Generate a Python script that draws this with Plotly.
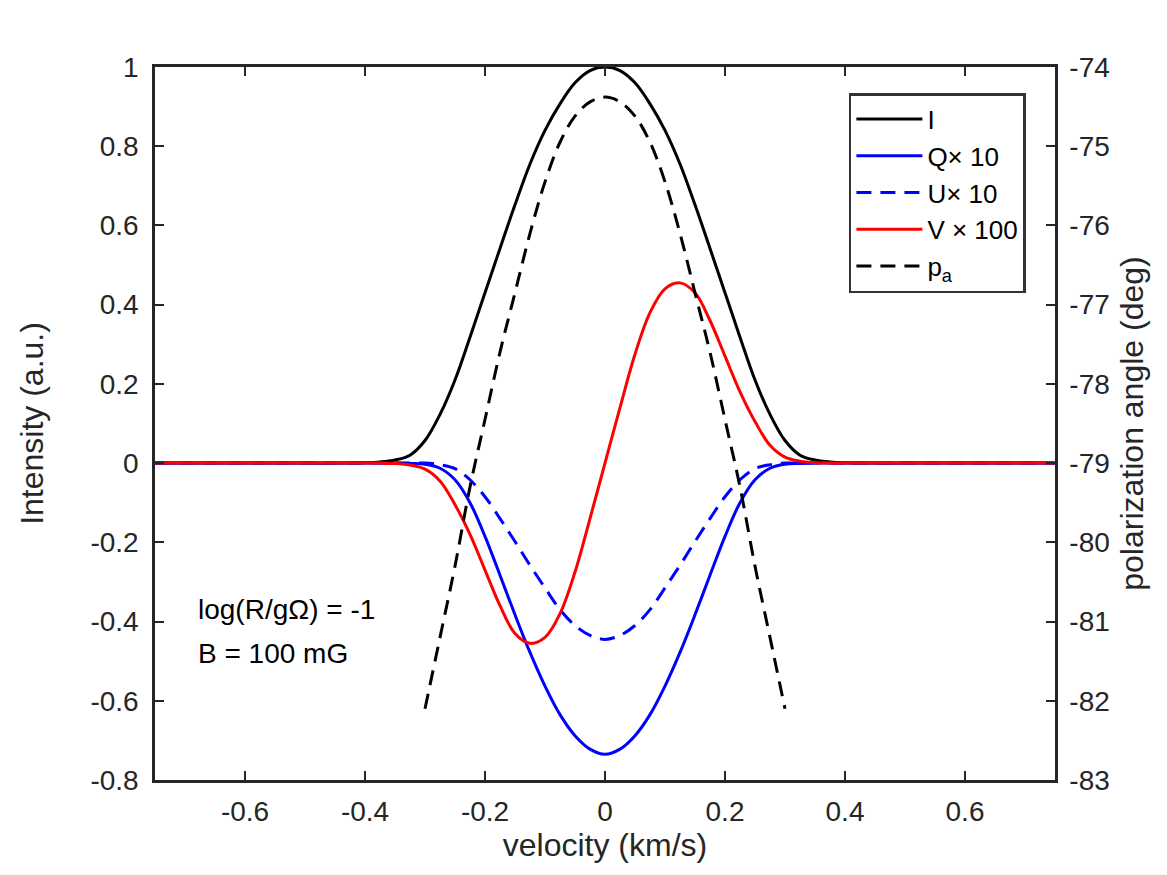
import plotly.graph_objects as go

# velocity grid (km/s) used for the Stokes profiles
velocity = [-0.75, -0.6, -0.5, -0.45, -0.4, -0.375, -0.35, -0.325, -0.3, -0.275,
            -0.25, -0.225, -0.2, -0.175, -0.15, -0.125, -0.1, -0.075, -0.05, -0.025,
            0.0, 0.025, 0.05, 0.075, 0.1, 0.125, 0.15, 0.175, 0.2, 0.225,
            0.25, 0.275, 0.3, 0.325, 0.35, 0.375, 0.4, 0.45, 0.5, 0.6, 0.75]

stokes_I = [0, 0, 0, 0, 0.001, 0.003, 0.008, 0.02, 0.057, 0.123,
            0.21, 0.318, 0.43, 0.542, 0.652, 0.755, 0.84, 0.907, 0.96, 0.991,
            1.0, 0.991, 0.96, 0.907, 0.84, 0.755, 0.652, 0.542, 0.43, 0.318,
            0.21, 0.123, 0.057, 0.02, 0.008, 0.003, 0.001, 0, 0, 0, 0]

stokes_Q10 = [0, 0, 0, 0, 0, 0, 0, -0.001, -0.003, -0.013,
              -0.042, -0.1, -0.185, -0.283, -0.383, -0.478, -0.563, -0.635, -0.688, -0.722,
              -0.735, -0.722, -0.688, -0.635, -0.563, -0.478, -0.383, -0.283, -0.185, -0.1,
              -0.042, -0.013, -0.003, -0.001, 0, 0, 0, 0, 0, 0, 0]

stokes_U10 = [0, 0, 0, 0, 0, 0, 0, 0, 0, -0.004,
              -0.014, -0.042, -0.085, -0.14, -0.198, -0.258, -0.315, -0.37, -0.41, -0.435,
              -0.445, -0.435, -0.41, -0.37, -0.315, -0.258, -0.198, -0.14, -0.085, -0.042,
              -0.014, -0.004, 0, 0, 0, 0, 0, 0, 0, 0, 0]

stokes_V100 = [0, 0, 0, 0, 0, 0, -0.001, -0.005, -0.015, -0.045,
               -0.105, -0.18, -0.27, -0.36, -0.43, -0.455, -0.44, -0.38, -0.275, -0.14,
               0.0, 0.14, 0.275, 0.38, 0.44, 0.455, 0.43, 0.36, 0.27, 0.18,
               0.105, 0.045, 0.015, 0.005, 0.001, 0, 0, 0, 0, 0, 0]

# polarization angle (deg), right axis
pa_velocity = [-0.3, -0.275, -0.25, -0.225, -0.2, -0.175, -0.15, -0.125, -0.1, -0.075,
               -0.05, -0.025, 0.0, 0.025, 0.05, 0.075, 0.1, 0.125, 0.15, 0.175,
               0.2, 0.225, 0.25, 0.275, 0.3]
pa_angle = [-82.1, -81.2, -80.3, -79.3, -78.45, -77.6, -76.85, -76.1, -75.45, -74.95,
            -74.62, -74.44, -74.38, -74.44, -74.62, -74.95, -75.45, -76.1, -76.85, -77.6,
            -78.45, -79.3, -80.3, -81.2, -82.1]

x_ticks = [-0.6, -0.4, -0.2, 0, 0.2, 0.4, 0.6]
x_labels = ["-0.6", "-0.4", "-0.2", "0", "0.2", "0.4", "0.6"]
y_ticks = [-0.8, -0.6, -0.4, -0.2, 0, 0.2, 0.4, 0.6, 0.8, 1]
y_labels = ["-0.8", "-0.6", "-0.4", "-0.2", "0", "0.2", "0.4", "0.6", "0.8", "1"]
y2_ticks = [-83, -82, -81, -80, -79, -78, -77, -76, -75, -74]
y2_labels = ["-83", "-82", "-81", "-80", "-79", "-78", "-77", "-76", "-75", "-74"]

FONT = "Liberation Sans, Arial, Helvetica, sans-serif"
INK = "#262626"
DASH = "15px,9px"

fig = go.Figure()
line_kw = dict(shape="spline", smoothing=1.0, width=3)
fig.add_trace(go.Scatter(x=velocity, y=stokes_I, mode="lines", name="I",
                         line=dict(color="black", **line_kw)))
fig.add_trace(go.Scatter(x=velocity, y=stokes_Q10, mode="lines", name="Q\u00d7 10",
                         line=dict(color="#0000ff", **line_kw)))
fig.add_trace(go.Scatter(x=velocity, y=stokes_U10, mode="lines", name="U\u00d7 10",
                         line=dict(color="#0000ff", dash=DASH, **line_kw)))
fig.add_trace(go.Scatter(x=velocity, y=stokes_V100, mode="lines", name="V \u00d7 100",
                         line=dict(color="#ff0000", **line_kw)))
fig.add_trace(go.Scatter(x=pa_velocity, y=pa_angle, mode="lines", name="p<sub>a</sub>",
                         yaxis="y2", line=dict(color="black", dash=DASH, **line_kw)))

axis_common = dict(showline=True, linecolor=INK, linewidth=2.5, ticks="inside",
                   ticklen=9, tickwidth=2, tickcolor=INK, showgrid=False,
                   zeroline=False, tickfont=dict(size=28, color=INK, family=FONT))

fig.update_layout(
    width=1167, height=875,
    margin=dict(l=147, r=120, t=59, b=103),
    paper_bgcolor="white", plot_bgcolor="white",
    font=dict(family=FONT, color=INK),
    xaxis=dict(range=[-0.75, 0.75], tickvals=x_ticks, ticktext=x_labels, mirror="ticks",
               ticklabelstandoff=5,
               title=dict(text="velocity (km/s)", font=dict(size=32, color=INK), standoff=8),
               **axis_common),
    yaxis=dict(range=[-0.8, 1], tickvals=y_ticks, ticktext=y_labels, ticklabelstandoff=8,
               title=dict(text="Intensity (a.u.)", font=dict(size=32, color=INK), standoff=38),
               **axis_common),
    yaxis2=dict(range=[-83, -74], tickvals=y2_ticks, ticktext=y2_labels, overlaying="y",
                side="right", ticklabelstandoff=6,
                title=dict(text="polarization angle (deg)", font=dict(size=32, color=INK),
                           standoff=12),
                **axis_common),
    legend=dict(x=0.771, y=0.9635, xanchor="left", yanchor="top", bgcolor="white",
                bordercolor="#333333", borderwidth=2.5, itemwidth=66,
                font=dict(size=26, color="black", family=FONT)),
    showlegend=True,
)

fig.add_annotation(x=-0.682, y=-0.369, xref="x", yref="y", text="log(R/g\u03a9) = -1",
                   showarrow=False, xanchor="left", yanchor="middle",
                   font=dict(size=28, color="black", family=FONT))
fig.add_annotation(x=-0.682, y=-0.48, xref="x", yref="y", text="B = 100 mG",
                   showarrow=False, xanchor="left", yanchor="middle",
                   font=dict(size=28, color="black", family=FONT))

fig.write_html("out.html")
